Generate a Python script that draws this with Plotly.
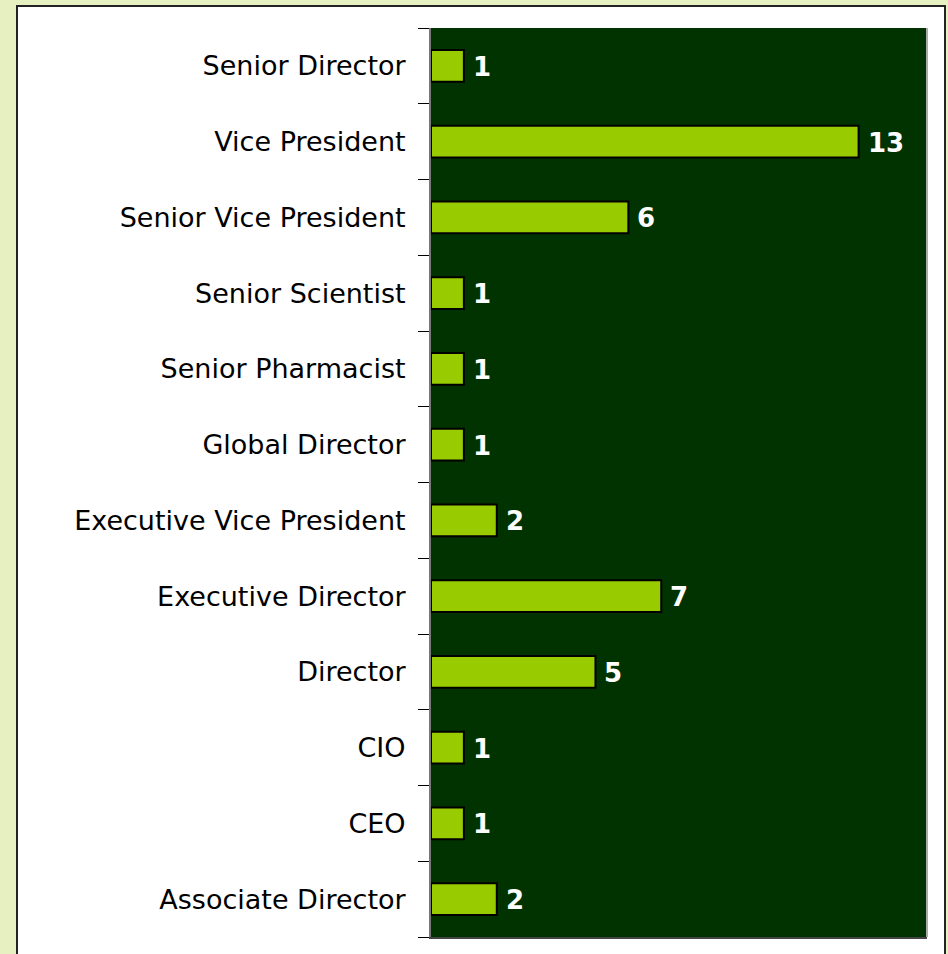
import plotly.graph_objects as go

categories = ["Associate Director", "CEO", "CIO", "Director", "Executive Director",
              "Executive Vice President", "Global Director", "Senior Pharmacist",
              "Senior Scientist", "Senior Vice President", "Vice President", "Senior Director"]
values = [2, 1, 1, 5, 7, 2, 1, 1, 1, 6, 13, 1]

W, H = 948, 954
L, R, T, B = 431, 21, 28, 17
pw, ph = W - L - R, H - T - B

fig = go.Figure()
fig.add_trace(go.Bar(
    y=categories, x=values, orientation="h",
    marker=dict(color="#99CC00", line=dict(color="#000000", width=2)),
    width=0.42, hoverinfo="x+y",
))

for c, v in zip(categories, values):
    fig.add_annotation(x=v, y=c, text=f"<b>{v}</b>", showarrow=False,
                       xanchor="left", xshift=7, yshift=-1,
                       font=dict(family="DejaVu Sans", size=26, color="#FFFFFF"))

def px2x(px):
    return (px - L) / pw

def py2y(py):
    return (H - B - py) / ph

# white inner panel with black border
fig.add_shape(type="rect", xref="paper", yref="paper",
              x0=px2x(17), x1=px2x(945), y0=py2y(965), y1=py2y(6),
              fillcolor="#FFFFFF", line=dict(color="#222222", width=2), layer="below")
# dark green plot area
fig.add_shape(type="rect", xref="paper", yref="paper", x0=0, x1=1, y0=0, y1=1,
              fillcolor="#003300", line=dict(width=0), layer="below")
# right edge line of plot area
fig.add_shape(type="line", xref="paper", yref="paper", x0=1, x1=1, y0=0, y1=1,
              line=dict(color="#AAAAAA", width=2))

fig.update_layout(
    width=W, height=H,
    margin=dict(l=L, r=R, t=T, b=B),
    paper_bgcolor="#E6F0C0",
    plot_bgcolor="#003300",
    showlegend=False,
    bargap=0.58,
    xaxis=dict(range=[0, 15.08], showgrid=False, zeroline=False, showticklabels=False,
               ticks="", showline=True, linecolor="#444444", linewidth=2, fixedrange=True),
    yaxis=dict(type="category", categoryorder="array", categoryarray=categories,
               showgrid=False, zeroline=False, ticks="outside", tickson="boundaries",
               ticklen=11, tickcolor="#000000", tickwidth=1,
               showline=True, linecolor="#777777", linewidth=2,
               ticklabelstandoff=18, fixedrange=True,
               tickfont=dict(family="DejaVu Sans", size=27, color="#000000")),
)

fig.write_html("out.html", config={"displayModeBar": False},
               post_script="document.body.style.margin='0';document.body.style.overflow='hidden';")
